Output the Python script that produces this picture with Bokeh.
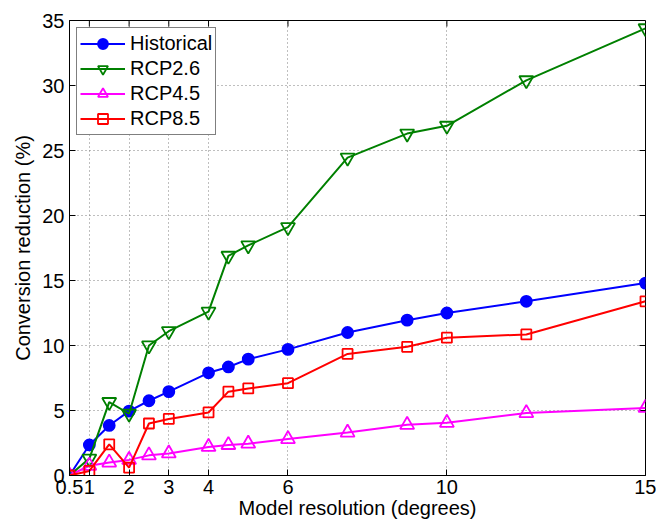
from bokeh.plotting import figure
from bokeh.models import FixedTicker, Legend, LegendItem, Range1d
from bokeh.embed import file_html
from bokeh.resources import INLINE

# ---- data ----
resolution = [0.5, 1, 1.5, 2, 2.5, 3, 4, 4.5, 5, 6, 7.5, 9, 10, 12, 15]
historical = [0.0, 2.35, 3.85, 4.95, 5.75, 6.45, 7.9, 8.35, 8.95, 9.7, 11.0, 11.95, 12.5, 13.4, 14.8]
rcp26 = [0.0, 1.3, 5.65, 4.75, 10.0, 11.1, 12.6, 16.9, 17.7, 19.1, 24.45, 26.3, 26.9, 30.4, 34.4]
rcp45 = [0.0, 0.75, 1.0, 1.2, 1.55, 1.7, 2.2, 2.35, 2.45, 2.8, 3.3, 3.9, 4.05, 4.8, 5.2]
rcp85 = [0.0, 0.35, 2.4, 0.6, 4.0, 4.35, 4.85, 6.45, 6.7, 7.1, 9.35, 9.9, 10.6, 10.85, 13.4]

x_ticks = [0.5, 1, 2, 3, 4, 6, 10, 15]
y_ticks = [0, 5, 10, 15, 20, 25, 30, 35]
x_range = (0.5, 15)
y_range = (0, 35)

x_label = "Model resolution (degrees)"
y_label = "Conversion reduction (%)"

FONT = "Liberation Sans"
FS = "20px"

W, H = 656, 524
BL, BR, BT, BB = 69, 11, 20, 49

p = figure(width=W, height=H, output_backend="svg", toolbar_location=None,
           x_range=Range1d(*x_range), y_range=Range1d(*y_range),
           min_border_left=BL, min_border_right=BR, min_border_top=BT, min_border_bottom=BB)

p.background_fill_color = "white"
p.border_fill_color = "white"
p.outline_line_color = "black"
p.outline_line_width = 1
p.outline_line_alpha = 1

TICK = 6
for ax in (p.xaxis[0], p.yaxis[0]):
    ax.axis_line_color = "black"
    ax.major_tick_line_color = "black"
    ax.major_tick_in = TICK
    ax.major_tick_out = 0
    ax.minor_tick_line_color = None
    ax.major_label_text_font = FONT
    ax.major_label_text_font_size = FS
    ax.major_label_text_color = "black"
    ax.axis_label_text_font = FONT
    ax.axis_label_text_font_size = FS
    ax.axis_label_text_font_style = "normal"
    ax.axis_label_text_color = "black"

p.xaxis[0].ticker = FixedTicker(ticks=x_ticks)
p.xaxis[0].major_label_overrides = {0.5: "0.5"}
p.xaxis[0].major_label_standoff = 4
p.xaxis[0].axis_label = x_label
p.xaxis[0].axis_label_standoff = 0

p.yaxis[0].ticker = FixedTicker(ticks=y_ticks)
p.yaxis[0].major_label_standoff = 5
p.yaxis[0].axis_label = y_label
p.yaxis[0].axis_label_standoff = 5

# grid
for g in (p.xgrid[0], p.ygrid[0]):
    g.grid_line_color = "#7f7f7f"
    g.grid_line_dash = "1 3"
    g.grid_line_width = 1
p.xgrid[0].ticker = FixedTicker(ticks=x_ticks)
p.ygrid[0].ticker = FixedTicker(ticks=y_ticks)

# inward box ticks on the top and right edges (derived from the tick lists)
fw = W - BL - BR
fh = H - BT - BB
dy = TICK * (y_range[1] - y_range[0]) / fh
dx = TICK * (x_range[1] - x_range[0]) / fw
p.segment(x0=x_ticks, y0=[y_range[1]] * len(x_ticks), x1=x_ticks,
          y1=[y_range[1] - dy] * len(x_ticks), line_color="black", line_width=1)
p.segment(x0=[x_range[1] - dx] * len(y_ticks), y0=y_ticks, x1=[x_range[1]] * len(y_ticks),
          y1=y_ticks, line_color="black", line_width=1)

LW = 2
series = [
    ("Historical", historical, "#0000ff", "circle", 11, "#0000ff"),
    ("RCP2.6", rcp26, "#008000", "inverted_triangle", 14, None),
    ("RCP4.5", rcp45, "#ff00ff", "triangle", 14, None),
    ("RCP8.5", rcp85, "#ff0000", "square", 10, None),
]

items = []
for name, ys, col, mk, sz, fill in series:
    r1 = p.line(resolution, ys, line_color=col, line_width=LW)
    r2 = p.scatter(resolution, ys, marker=mk, size=sz, line_color=col,
                   line_width=1.8, fill_color=fill)
    items.append(LegendItem(label=name, renderers=[r1, r2]))

legend = Legend(items=items, location="top_left", margin=7, padding=3,
                spacing=0, glyph_width=45, glyph_height=25, label_height=25,
                label_standoff=5, label_text_font=FONT, label_text_font_size=FS,
                label_text_color="black", border_line_color="black",
                border_line_width=1, background_fill_color="white",
                background_fill_alpha=1)
p.add_layout(legend, "center")

open("out.html", "w").write(file_html(p, INLINE))
